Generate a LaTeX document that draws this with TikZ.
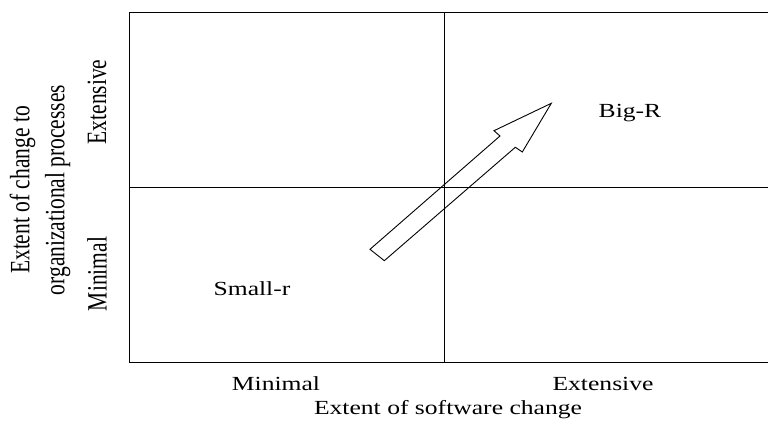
\documentclass[tikz,border=0pt]{standalone}
\usepackage{fontspec}
\setmainfont{Liberation Serif}
\usetikzlibrary{positioning,calc}
\newcommand{\widetext}[1]{\scalebox{1.28}[1]{#1}}
\newcommand{\talltext}[1]{\scalebox{1}[1.3]{#1}}

\begin{document}
\begin{tikzpicture}[
  x=1pt, y=-1pt,
  grid/.style={line width=0.9pt, draw=black},
  quadlabel/.style={font=\fontsize{20}{24}\selectfont, inner sep=0pt},
  axislabel/.style={font=\fontsize{20}{24}\selectfont, inner sep=0pt},
  sidelabel/.style={font=\fontsize{21.5}{35}\selectfont, inner sep=0pt,
    rotate=90, align=center},
  shiftarrow/.style={line width=0.9pt, draw=black, line join=miter}
]
  \useasboundingbox (0,0) rectangle (768,422);

  % Frame and quadrants
  \coordinate (tl) at (129,12);
  \coordinate (bl) at (129,362);
  \coordinate (tr) at (768,12);
  \coordinate (br) at (768,362);
  \coordinate (midtop) at (444,12);
  \coordinate (midbot) at (444,362);
  \coordinate (midleft) at (129,187);
  \coordinate (midright) at (768,187);
  \draw[grid] (tr) -- (tl) -- (bl) -- (br);
  \draw[grid] (midtop) -- (midbot);
  \draw[grid] (midleft) -- (midright);

  % Block arrow from Small-r to Big-R
  \draw[shiftarrow] (370,249.3) -- (500,136) -- (494,130.7) -- (551.3,103.3)
      -- (522.3,152) -- (515.3,147.3) -- (384.3,260.7) -- cycle;

  % Quadrant labels
  \node[quadlabel] (bigr) at (630,113) {\widetext{Big-R}};
  \node[quadlabel] (smallr) at (252,289) {\widetext{Small-r}};

  % Horizontal axis
  \node[axislabel] (xmin) at (276,384) {\widetext{Minimal}};
  \node[axislabel] (xmax) at (603,384) {\widetext{Extensive}};
  \node[axislabel] (xtitle) at (448,410) {\widetext{Extent of software change}};

  % Vertical axis
  \node[sidelabel] (ymin) at (97,274) {\talltext{Minimal}};
  \node[sidelabel] (ymax) at (97,102) {\talltext{Extensive}};
  \node[sidelabel] (ytitle) at (40,190)
      {\talltext{Extent of change to}\\\talltext{organizational processes}};
\end{tikzpicture}
\end{document}
